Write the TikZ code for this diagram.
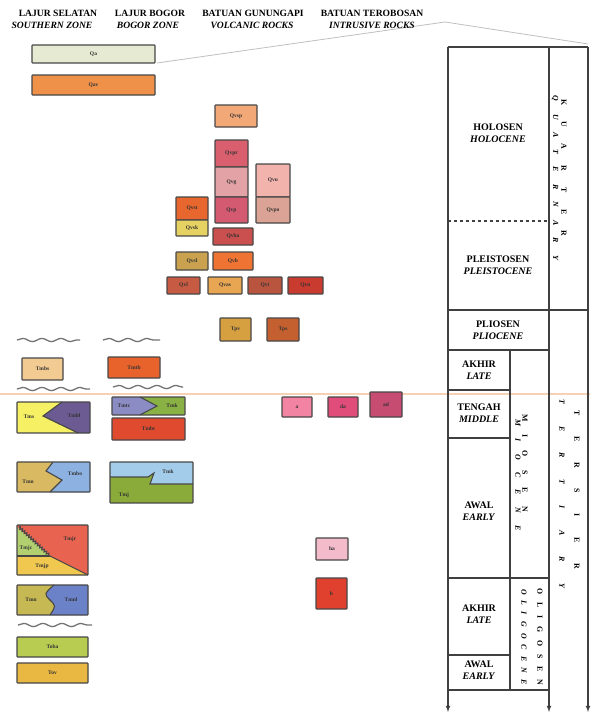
\documentclass[tikz,border=0pt]{standalone}
\usepackage{fontspec}
\setmainfont{Liberation Serif}
\usetikzlibrary{decorations.pathmorphing, arrows, calc}
\tikzset{>=latex}

% unit colours
\definecolor{cQa}{HTML}{E6EAD2}
\definecolor{cQav}{HTML}{F0914A}
\definecolor{cQvsp}{HTML}{F2A877}
\definecolor{cQvpr}{HTML}{D95F6E}
\definecolor{cQvg}{HTML}{E3A3A6}
\definecolor{cQvp}{HTML}{D45A72}
\definecolor{cQvu}{HTML}{F2B3AD}
\definecolor{cQvpo}{HTML}{DBA395}
\definecolor{cQvst}{HTML}{E8672F}
\definecolor{cQvsk}{HTML}{E6D263}
\definecolor{cQvba}{HTML}{C9504F}
\definecolor{cQvsl}{HTML}{C9A14F}
\definecolor{cQvb}{HTML}{EF7434}
\definecolor{cQvl}{HTML}{C65A42}
\definecolor{cQvas}{HTML}{E8A552}
\definecolor{cQvt}{HTML}{B9543F}
\definecolor{cQvn}{HTML}{C93A2F}
\definecolor{cTpv}{HTML}{D6A040}
\definecolor{cTps}{HTML}{C4602F}
\definecolor{cTmbs}{HTML}{F2CB93}
\definecolor{cTmtb}{HTML}{E8622C}
\definecolor{cTms}{HTML}{F5F064}
\definecolor{cTmbl}{HTML}{6B5B92}
\definecolor{cTmtc}{HTML}{8C8CC4}
\definecolor{cTmk}{HTML}{8AB143}
\definecolor{cTmbt}{HTML}{E04B30}
\definecolor{cTmn}{HTML}{D9BA62}
\definecolor{cTmbo}{HTML}{8DB2E2}
\definecolor{cTmkb}{HTML}{A3CBEA}
\definecolor{cTmj}{HTML}{8AAA3A}
\definecolor{cTmjr}{HTML}{E86350}
\definecolor{cTmjc}{HTML}{B3D070}
\definecolor{cTmjp}{HTML}{F0C850}
\definecolor{cTmno}{HTML}{C6B852}
\definecolor{cTmnl}{HTML}{6C82C8}
\definecolor{cToba}{HTML}{B8CC52}
\definecolor{cTov}{HTML}{E9B842}
\definecolor{cIa}{HTML}{F283A3}
\definecolor{cIda}{HTML}{E04D7B}
\definecolor{cIad}{HTML}{C74C72}
\definecolor{cIha}{HTML}{F4BBCB}
\definecolor{cIb}{HTML}{E0412F}
\definecolor{cScan}{HTML}{F6D2B4}

\newcommand\unitfont{\fontsize{5.5}{6}\selectfont\bfseries}
\newcommand\headfont{\fontsize{9.6}{10}\selectfont\bfseries}
\newcommand\epochfont{\fontsize{10}{11.5}\selectfont\bfseries}
\newcommand\vertfont{\fontsize{7.8}{8}\selectfont\bfseries}

\tikzset{
  unitbox/.style={draw=black!72, line width=1.1pt, rounded corners=0.6pt,
    inner sep=0pt, font=\unitfont, text=black!80},
  unitedge/.style={draw=black!72, line width=1.1pt},
  unitlbl/.style={font=\unitfont, inner sep=0pt, text=black!80},
  head/.style={font=\headfont, inner sep=0pt},
  headit/.style={font=\headfont\itshape, inner sep=0pt},
  chart/.style={draw=black!75, line width=1.1pt},
  epoch/.style={font=\epochfont, align=center, inner sep=0pt},
  vert/.style={rotate=-90, font=\vertfont, inner sep=0pt},
  vertit/.style={rotate=-90, font=\vertfont\itshape, inner sep=0pt},
  uncon/.style={decorate, decoration={snake, amplitude=1.6pt, segment length=19pt},
    draw=black!55, line width=1.3pt},
}

\begin{document}
\begin{tikzpicture}[x=1pt, y=-1pt]
\useasboundingbox (0,0) rectangle (590,717);

% scan line and correlation line, behind everything
\draw[cScan, line width=1.2pt] (0,394) -- (590,394);
\coordinate (qaend) at (157,63);
\coordinate (topbend) at (445,22);
\coordinate (topright) at (588,44);
\draw[black!25, line width=0.8pt] (qaend) -- (topbend) -- (topright);

% column heads
\node[head] (hSel) at (58,13) {LAJUR SELATAN};
\node[headit] (hSelE) at (52,25) {SOUTHERN ZONE};
\node[head] (hBog) at (150,13) {LAJUR BOGOR};
\node[headit] (hBogE) at (148,25) {BOGOR ZONE};
\node[head] (hVol) at (253,13) {BATUAN GUNUNGAPI};
\node[headit] (hVolE) at (252,25) {VOLCANIC ROCKS};
\node[head] (hInt) at (372,13) {BATUAN TEROBOSAN};
\node[headit] (hIntE) at (372,25) {INTRUSIVE ROCKS};

% time chart
\draw[chart] (448,47) -- (588,47);
\foreach \x in {448,549,588}
  \draw[chart,->] (\x,47) -- (\x,712);
\draw[chart] (448,310) -- (588,310);
\draw[chart] (448,350) -- (549,350);
\draw[chart] (510,350) -- (510,690);
\foreach \y in {390,438,655}
  \draw[chart] (448,\y) -- (510,\y);
\draw[chart] (448,578) -- (549,578);
\draw[chart] (448,690) -- (549,690);
\draw[chart, dashed] (448,221) -- (549,221);

\node[epoch] (holo) at (498,133) {HOLOSEN\\\textit{HOLOCENE}};
\node[epoch] (pleis) at (498,265) {PLEISTOSEN\\\textit{PLEISTOCENE}};
\node[epoch] (plio) at (498,330) {PLIOSEN\\\textit{PLIOCENE}};
\node[epoch] (mioL) at (479,370) {AKHIR\\\textit{LATE}};
\node[epoch] (mioM) at (479,413) {TENGAH\\\textit{MIDDLE}};
\node[epoch] (mioE) at (479,511) {AWAL\\\textit{EARLY}};
\node[epoch] (oliL) at (479,614) {AKHIR\\\textit{LATE}};
\node[epoch] (oliE) at (479,670) {AWAL\\\textit{EARLY}};

\node[vert] (kuarter) at (564,168) {\addfontfeature{LetterSpace=210}KUARTER};
\node[vertit] (quatern) at (555,178) {\addfontfeature{LetterSpace=160}QUATERNARY};
\node[vert] (tersier) at (577,490) {\addfontfeature{LetterSpace=265}TERSIER};
\node[vertit] (tertiary) at (562,494) {\addfontfeature{LetterSpace=275}TERTIARY};
\node[vert] (miosen) at (525,463) {\addfontfeature{LetterSpace=170}MIOSEN};
\node[vertit] (miocene) at (518,475) {\addfontfeature{LetterSpace=160}MIOCENE};
\node[vert] (oligosen) at (540,637) {\addfontfeature{LetterSpace=100}OLIGOSEN};
\node[vertit] (oligocene) at (524,637) {\addfontfeature{LetterSpace=80}OLIGOCENE};

% unconformities
\draw[uncon] (17,340) -- (80,340);
\draw[uncon] (103,340) -- (160,340);
\draw[uncon] (17,389) -- (90,389);
\draw[uncon] (113,387) -- (183,387);
\draw[uncon] (18,625) -- (92,625);

% single units: name/centre x/centre y/width/height/colour/label
\foreach \n/\cx/\cy/\w/\h/\c/\t in {
  qa/93.5/54/123/18/cQa/Qa,
  qav/93.5/85/123/20/cQav/Qav,
  qvsp/236/116/42/22/cQvsp/Qvsp,
  qvpr/231.5/153.5/33/27/cQvpr/Qvpr,
  qvg/231.5/182/33/30/cQvg/Qvg,
  qvp/231.5/210/33/26/cQvp/Qvp,
  qvu/273/180.5/34/33/cQvu/Qvu,
  qvpo/273/210/34/26/cQvpo/Qvpo,
  qvst/192/208.5/32/23/cQvst/Qvst,
  qvsk/192/228/32/16/cQvsk/Qvsk,
  qvba/233/236.5/40/17/cQvba/Qvba,
  qvsl/192/261/32/18/cQvsl/Qvsl,
  qvb/233/261/40/18/cQvb/Qvb,
  qvl/183.5/285.5/33/17/cQvl/Qvl,
  qvas/225/285.5/34/17/cQvas/Qvas,
  qvt/265/285.5/34/17/cQvt/Qvt,
  qvn/305.5/285.5/35/17/cQvn/Qvn,
  tpv/235.5/329.5/31/23/cTpv/Tpv,
  tps/283/329.5/32/23/cTps/Tps,
  tmbs/42.5/369/41/22/cTmbs/Tmbs,
  tmtb/134/367.5/52/21/cTmtb/Tmtb,
  tmbt/148.5/429/73/22/cTmbt/Tmbt,
  toba/52.5/647/71/20/cToba/Toba,
  tov/52.5/673/71/20/cTov/Tov,
  ia/297/407/30/20/cIa/a,
  ida/343/407/30/20/cIda/da,
  iad/386/404.5/32/25/cIad/ad,
  iha/332/549/32/22/cIha/ha,
  ib/331.5/593.5/31/31/cIb/b%
} \node[unitbox, fill=\c, minimum width=\w pt, minimum height=\h pt] (\n) at (\cx,\cy) {\t};

% southern zone, interfingering units
\fill[cTms] (17,402) rectangle (90,433);
\fill[cTmbl] (62,402) -- (90,402) -- (90,433) -- (78,433) -- (43,416) -- cycle;
\draw[unitedge] (62,402) -- (43,416) -- (78,433);
\draw[unitbox] (17,402) rectangle (90,433);
\node[unitlbl] (tms) at (29,417) {Tms};
\node[unitlbl] (tmbl) at (74,416) {Tmbl};

\fill[cTmn] (17,462) rectangle (90,492);
\fill[cTmbo] (53,462) -- (90,462) -- (90,492) -- (50,492) -- (62,480) -- (46,471) -- cycle;
\draw[unitedge] (53,462) -- (46,471) -- (62,480) -- (50,492);
\draw[unitbox] (17,462) rectangle (90,492);
\node[unitlbl] (tmn) at (28,482) {Tmn};
\node[unitlbl] (tmbo) at (75,474) {Tmbo};

\fill[cTmjr] (17,525) rectangle (88,575);
\fill[cTmjc] (17,527) -- (50,556) -- (17,556) -- cycle;
\fill[cTmjp] (17,556) -- (50,556) -- (88,575) -- (17,575) -- cycle;
\draw[unitedge, decorate, decoration={zigzag, segment length=3pt, amplitude=1.2pt}]
  (19,527) -- (50,556);
\draw[unitedge] (50,556) -- (88,575);
\draw[unitedge] (17,556) -- (50,556);
\draw[unitbox] (17,525) rectangle (88,575);
\node[unitlbl] (tmjr) at (70,539) {Tmjr};
\node[unitlbl] (tmjc) at (26,548) {Tmjc};
\node[unitlbl] (tmjp) at (42,566) {Tmjp};

\fill[cTmno] (17,585) rectangle (88,615);
\fill[cTmnl] (54,585) .. controls (44,594) .. (50,600) .. controls (56,606) .. (50,615)
  -- (88,615) -- (88,585) -- cycle;
\draw[unitedge] (54,585) .. controls (44,594) .. (50,600) .. controls (56,606) .. (50,615);
\draw[unitbox] (17,585) rectangle (88,615);
\node[unitlbl] (tmno) at (31,600) {Tmn};
\node[unitlbl] (tmnl) at (71,600) {Tmnl};

% bogor zone, interfingering units
\fill[cTmk] (112,397) rectangle (185,415);
\fill[cTmtc] (112,397) -- (140,397) -- (157,406) -- (140,415) -- (112,415) -- cycle;
\draw[unitedge] (140,397) -- (157,406) -- (140,415);
\draw[unitbox] (112,397) rectangle (185,415);
\node[unitlbl] (tmtc) at (124,406) {Tmtc};
\node[unitlbl] (tmk) at (172,406) {Tmk};

\fill[cTmj] (110,462) rectangle (193,503);
\fill[cTmkb] (110,462) -- (193,462) -- (193,484) -- (150,484) -- (154,473) -- (148,477)
  -- (110,477) -- cycle;
\draw[unitedge] (110,477) -- (148,477) -- (154,473) -- (150,484) -- (193,484);
\draw[unitbox] (110,462) rectangle (193,503);
\node[unitlbl] (tmkb) at (168,472) {Tmk};
\node[unitlbl] (tmj) at (124,495) {Tmj};
\end{tikzpicture}
\end{document}
